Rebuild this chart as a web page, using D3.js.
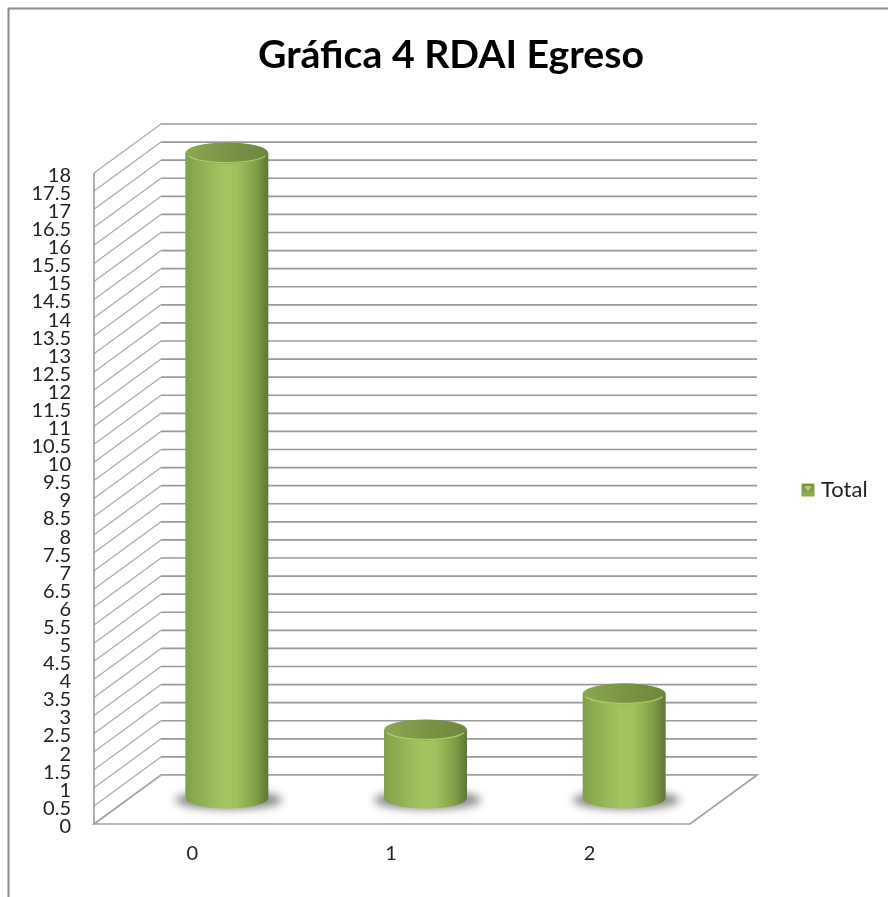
<!DOCTYPE html>
<html>
<head>
<meta charset="utf-8">
<script src="https://cdn.jsdelivr.net/npm/d3@7"></script>
<style>
  html, body { margin: 0; padding: 0; background: #fff; }
  text { font-family: Lato, "Noto Sans", sans-serif; fill: #222; }
  svg { filter: blur(0.45px); }
</style>
</head>
<body>
<div id="chart"></div>
<script>
const categories = ["0", "1", "2"];
const totals = [18, 2, 3];
const yTicks = [0, 0.5, 1, 1.5, 2, 2.5, 3, 3.5, 4, 4.5, 5, 5.5, 6, 6.5, 7, 7.5, 8, 8.5, 9,
    9.5, 10, 10.5, 11, 11.5, 12, 12.5, 13, 13.5, 14, 14.5, 15, 15.5, 16, 16.5, 17, 17.5, 18];
const seriesName = "Total";
const chartTitle = "Gráfica 4 RDAI Egreso";

const width = 888, height = 897;

// 3D box: front plane plus the shift to the back wall
const depthX = 67, depthY = -49;
const frontLeft = 94, frontRight = 690;

const y = d3.scaleLinear().domain([0, 18]).range([824, 173]);
const xFront = d3.scaleBand().domain(categories).range([frontLeft, frontRight]);

// cylinders stand half way into the box
const xMid = d3.scaleBand().domain(categories).range([frontLeft + depthX / 2, frontRight + depthX / 2]);
const yBar = d3.scaleLinear().domain([0, 18]).range([802, 153]);
const barBase = yBar(0) - 4; // perspective pulls the foot up a little
const barRx = 41.5, barRy = 10.5;

const svg = d3.select("#chart").append("svg")
    .attr("width", width)
    .attr("height", height)
    .style("display", "block");

const defs = svg.append("defs");

const sideGrad = defs.append("linearGradient").attr("id", "cylSide");
[[0, "#7f9f49"], [0.12, "#8aab4e"], [0.45, "#a3c560"], [0.62, "#a0c15d"], [0.85, "#7f9e47"], [1, "#5d7833"]]
    .forEach(s => sideGrad.append("stop").attr("offset", s[0]).attr("stop-color", s[1]));

const topGrad = defs.append("linearGradient").attr("id", "cylTop");
[[0, "#8aa854"], [0.5, "#7a9546"], [1, "#6d873e"]]
    .forEach(s => topGrad.append("stop").attr("offset", s[0]).attr("stop-color", s[1]));

const legendGrad = defs.append("linearGradient").attr("id", "legendKey").attr("x2", 0).attr("y2", 1);
[[0, "#6f8a3e"], [1, "#93b354"]]
    .forEach(s => legendGrad.append("stop").attr("offset", s[0]).attr("stop-color", s[1]));

defs.append("filter").attr("id", "soft").attr("x", "-30%").attr("y", "-100%").attr("width", "160%").attr("height", "300%")
    .append("feGaussianBlur").attr("stdDeviation", 4.5);

// outer chart frame, only top and left show in the crop
svg.append("path")
    .attr("d", `M8.5,${height} V8.5 H${width}`)
    .attr("fill", "none")
    .attr("stroke", "#8c8c8c")
    .attr("stroke-width", 2);

svg.append("text")
    .attr("x", 451)
    .attr("y", 68)
    .attr("text-anchor", "middle")
    .style("font-size", "38px")
    .style("font-weight", 700)
    .style("fill", "#000")
    .attr("textLength", 386)
    .attr("lengthAdjust", "spacingAndGlyphs")
    .text(chartTitle);

// back wall lines
svg.append("g").selectAll("line")
    .data(yTicks)
    .join("line")
    .attr("x1", frontLeft + depthX)
    .attr("x2", frontRight + depthX)
    .attr("y1", d => y(d) + depthY)
    .attr("y2", d => y(d) + depthY)
    .attr("stroke", "#999")
    .attr("stroke-width", 1.7);

// white floor hides the back lines below zero, then the side wall lines
svg.append("path")
    .attr("d", `M${frontLeft},${y(0)} H${frontRight} L${frontRight + depthX},${y(0) + depthY} H${frontLeft + depthX} Z`)
    .attr("fill", "#fff")
    .attr("stroke", "#a0a0a0")
    .attr("stroke-width", 1.7);

svg.append("g").selectAll("line")
    .data(yTicks)
    .join("line")
    .attr("x1", frontLeft)
    .attr("x2", frontLeft + depthX)
    .attr("y1", d => y(d))
    .attr("y2", d => y(d) + depthY)
    .attr("stroke", "#a8a8a8")
    .attr("stroke-width", 1.2);

svg.append("line")
    .attr("x1", frontLeft)
    .attr("x2", frontLeft)
    .attr("y1", y(18))
    .attr("y2", y(0))
    .attr("stroke", "#a0a0a0")
    .attr("stroke-width", 1.7);

// cylinders
const bars = svg.append("g").selectAll("g")
    .data(totals)
    .join("g")
    .attr("transform", (d, i) => `translate(${xMid(categories[i]) + xMid.bandwidth() / 2},0)`);

bars.append("ellipse")
    .attr("cx", 2)
    .attr("cy", barBase + 2)
    .attr("rx", barRx + 12)
    .attr("ry", barRy - 1)
    .attr("fill", "#8a8a8a")
    .attr("filter", "url(#soft)");

bars.append("path")
    .attr("d", d => `M${-barRx},${yBar(d)} V${barBase} A${barRx},${barRy} 0 0 0 ${barRx},${barBase} V${yBar(d)} Z`)
    .attr("fill", "url(#cylSide)");

bars.append("ellipse")
    .attr("cy", d => yBar(d))
    .attr("rx", barRx)
    .attr("ry", barRy)
    .attr("fill", "url(#cylTop)");

// light rim on the lower edge of the cap
bars.append("path")
    .attr("d", d => `M${-barRx + 3},${yBar(d) + 3} A${barRx},${barRy} 0 0 0 ${barRx - 3},${yBar(d) + 3}`)
    .attr("fill", "none")
    .attr("stroke", "#b4d46a")
    .attr("stroke-width", 1.3)
    .attr("opacity", 0.85);

// axes
const yAxis = d3.axisLeft(y)
    .tickValues(yTicks)
    .tickFormat(d => String(d))
    .tickSize(0)
    .tickPadding(0);

const gy = svg.append("g")
    .attr("transform", "translate(71,2)")
    .call(yAxis);
gy.select(".domain").remove();
gy.selectAll("text")
    .style("font-size", "20px")
    .style("font-family", "Lato, sans-serif");

const xAxis = d3.axisBottom(xFront).tickSize(0).tickPadding(0);

const gx = svg.append("g")
    .attr("transform", "translate(-1,846)")
    .call(xAxis);
gx.select(".domain").remove();
gx.selectAll("text")
    .style("font-size", "20px")
    .style("font-family", "Lato, sans-serif");

// legend
svg.append("rect")
    .attr("x", 802)
    .attr("y", 484)
    .attr("width", 12)
    .attr("height", 12)
    .attr("fill", "url(#legendKey)")
    .attr("stroke", "#86a24e")
    .attr("stroke-width", 1);

svg.append("path")
    .attr("d", "M804,486 H812 L808,491 Z")
    .attr("fill", "#b5d06f");

svg.append("text")
    .attr("x", 821)
    .attr("y", 497)
    .style("font-size", "22px")
    .text(seriesName);
</script>
</body>
</html>
